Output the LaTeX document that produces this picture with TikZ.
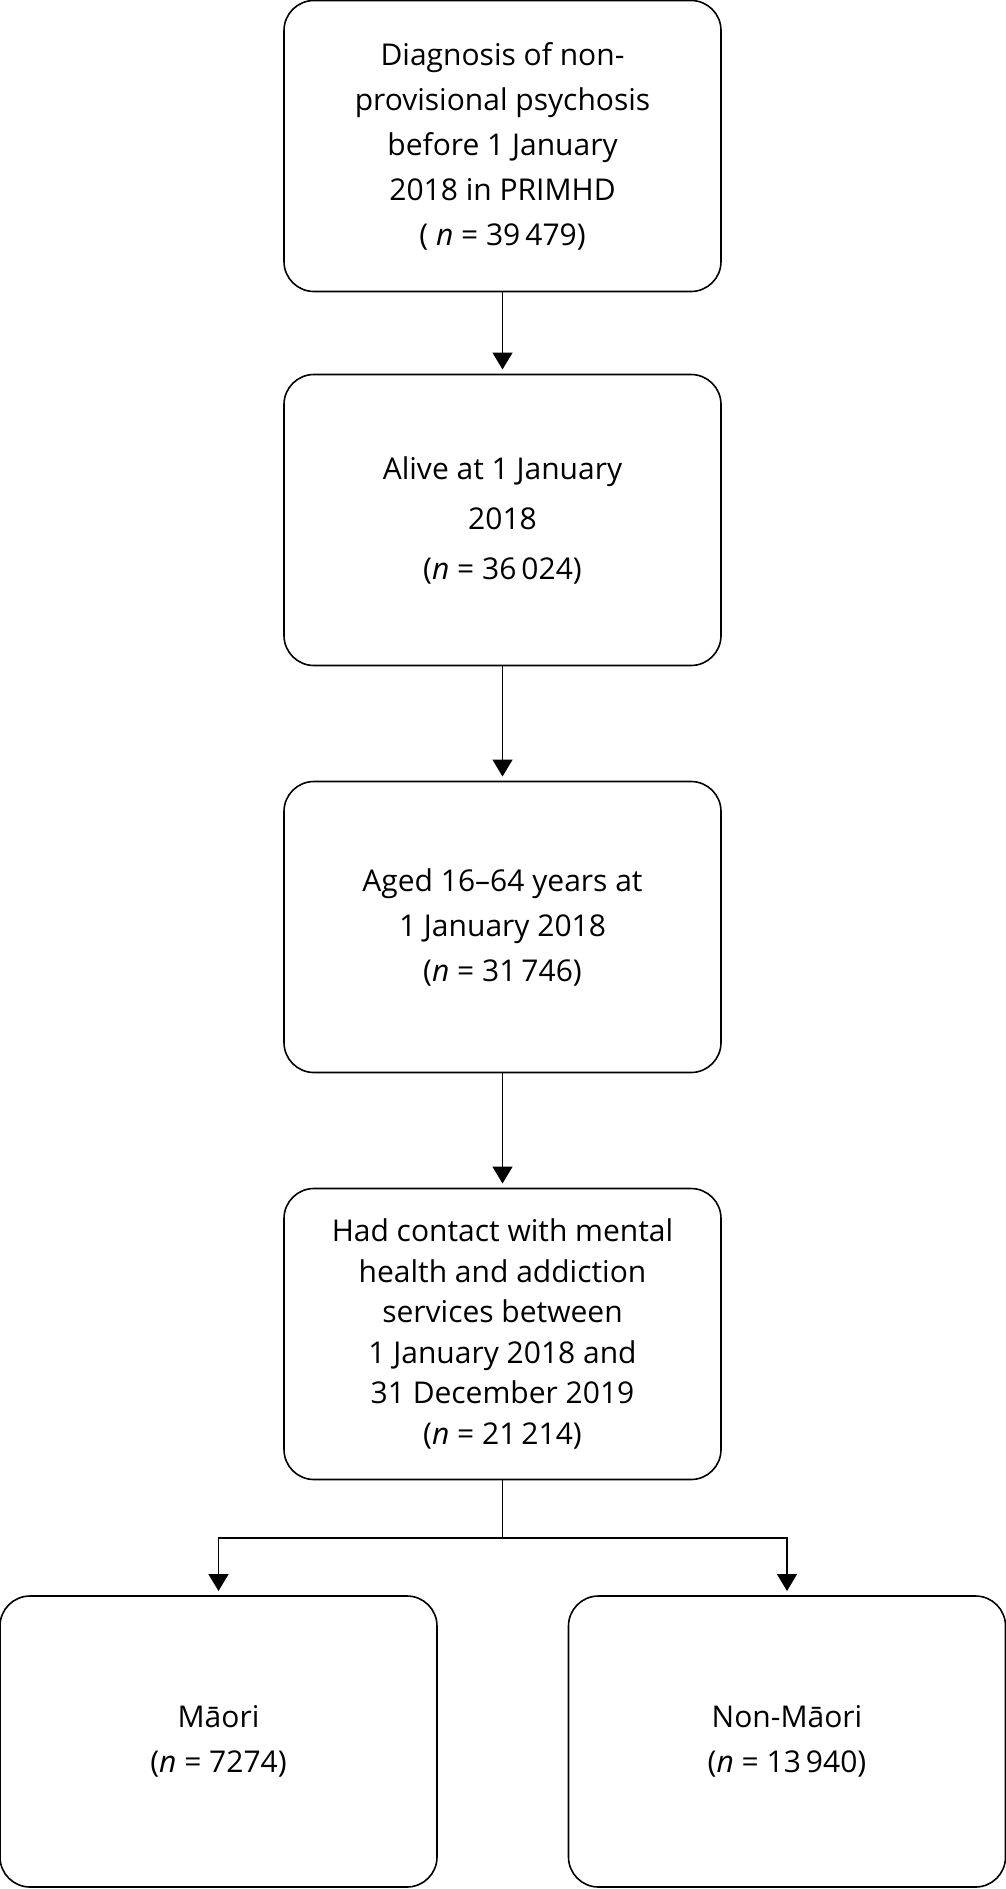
\documentclass[tikz,border=0pt]{standalone}
\usepackage{fontspec}
\setmainfont{Open Sans}
\usetikzlibrary{arrows.meta}
\begin{document}
\begin{tikzpicture}[x=1pt,y=-1pt,
  every node/.style={outer sep=0pt},
  stage/.style={draw, line width=1.6pt, rounded corners=30pt, minimum width=437pt, minimum height=291pt, align=center, font=\fontsize{30}{45}\selectfont},
  flow/.style={line width=1.6pt, -{Triangle[width=20pt,length=17pt]}, shorten >=5pt}]
\useasboundingbox (0,0) rectangle (1006,1889);
\node[stage] (diag) at (502.5,146) {Diagnosis of non-\\provisional psychosis\\before 1 January\\2018 in PRIMHD\\( \textit{n} = 39\,479)};
\node[stage, font=\fontsize{30}{50}\selectfont] (alive) at (502.5,520) {Alive at 1 January\\2018\\(\textit{n} = 36\,024)};
\node[stage] (aged) at (502.5,927) {Aged 16–64 years at\\1 January 2018\\(\textit{n} = 31\,746)};
\node[stage, font=\fontsize{30}{40.5}\selectfont] (contact) at (502.5,1334) {Had contact with mental\\health and addiction\\services between\\1 January 2018 and\\31 December 2019\\(\textit{n} = 21\,214)};
\node[stage] (maori) at (218.5,1741.5) {Māori\\(\textit{n} = 7274)};
\node[stage] (nonmaori) at (787,1741.5) {Non-Māori\\(\textit{n} = 13\,940)};
\coordinate (split) at (502.5,1538);
\draw[flow] (diag) -- (alive);
\draw[flow] (alive) -- (aged);
\draw[flow] (aged) -- (contact);
\draw[line width=1.6pt] (contact) -- (split);
\draw[flow] (split) -| (maori);
\draw[flow] (split) -| (nonmaori);
\end{tikzpicture}
\end{document}
